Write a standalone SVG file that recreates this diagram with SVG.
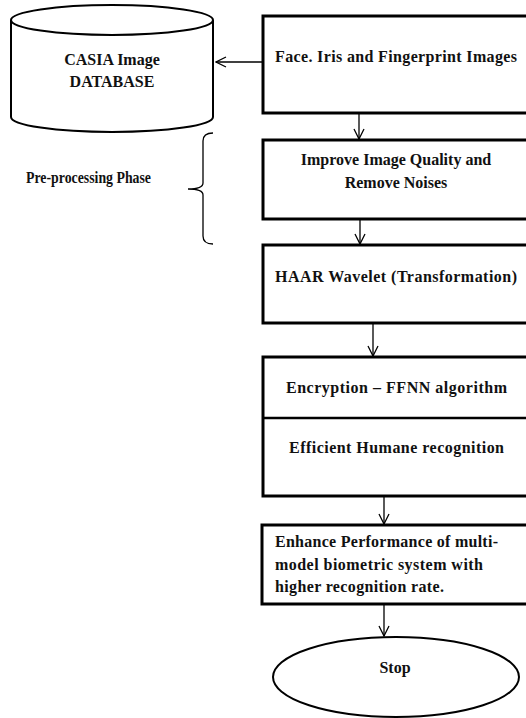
<svg xmlns="http://www.w3.org/2000/svg" width="526" height="718" viewBox="0 0 526 718">
<style>
.box{fill:#fff;stroke:#000;stroke-width:3}
.shape{fill:#fff;stroke:#000;stroke-width:2}
.t{font-family:"Liberation Serif","Times New Roman",serif;font-weight:bold;font-size:16px;fill:#111}
.c{text-anchor:middle}
.conn{fill:none;stroke:#000;stroke-width:1.3}
</style>
<defs>
<marker id="arr" viewBox="0 0 12 12" refX="11" refY="6" markerWidth="12" markerHeight="12" markerUnits="userSpaceOnUse" orient="auto">
<path d="M1,1 L11,6 L1,11" fill="none" stroke="#000" stroke-width="1.3"/>
</marker>
</defs>
<rect width="526" height="718" fill="#fff"/>
<g id="db">
<path class="shape" d="M11,20 L11,117 A101,15 0 0 0 213,117 L213,20"/>
<ellipse class="shape" cx="112" cy="20" rx="101" ry="15"/>
<text class="t c" x="112" y="65">CASIA Image</text>
<text class="t c" x="112" y="87">DATABASE</text>
</g>
<g id="brace">
<path class="conn" d="M213,133 Q203,133 203,141 L203,183 Q203,189 188,189 Q203,189 203,195 L203,236 Q203,244 213,244"/>
<text class="t" x="26" y="183" font-size="14" textLength="125" lengthAdjust="spacingAndGlyphs">Pre-processing Phase</text>
</g>
<g id="images">
<rect class="box" x="263" y="16" width="270" height="97"/>
<text class="t" x="275" y="62" textLength="242" lengthAdjust="spacing">Face. Iris and Fingerprint Images</text>
</g>
<g id="improve">
<rect class="box" x="263" y="140" width="270" height="79"/>
<text class="t c" x="396" y="165">Improve Image Quality and</text>
<text class="t c" x="396" y="188">Remove Noises</text>
</g>
<g id="haar">
<rect class="box" x="263" y="245" width="270" height="78"/>
<text class="t" x="275" y="282" textLength="242" lengthAdjust="spacing">HAAR Wavelet (Transformation)</text>
</g>
<g id="encrypt">
<rect class="box" x="263" y="357" width="270" height="139"/>
<line x1="263" y1="418" x2="533" y2="418" stroke="#000" stroke-width="2.5"/>
<text class="t" x="286" y="393" textLength="221" lengthAdjust="spacing">Encryption – FFNN algorithm</text>
<text class="t" x="289" y="453" textLength="215" lengthAdjust="spacing">Efficient Humane recognition</text>
</g>
<g id="enhance">
<rect class="box" x="262" y="525" width="270" height="79"/>
<text class="t" x="275" y="547" textLength="223" lengthAdjust="spacing">Enhance Performance of multi-</text>
<text class="t" x="275" y="570" textLength="208" lengthAdjust="spacing">model  biometric system with</text>
<text class="t" x="275" y="592" textLength="169" lengthAdjust="spacing">higher recognition rate.</text>
</g>
<g id="stop">
<ellipse class="shape" cx="396" cy="677" rx="123" ry="40"/>
<text class="t c" x="395" y="673">Stop</text>
</g>
<g id="connectors">
<line class="conn" x1="263" y1="62" x2="216" y2="62" marker-end="url(#arr)"/>
<line class="conn" x1="359" y1="113" x2="359" y2="139" marker-end="url(#arr)"/>
<line class="conn" x1="360" y1="219" x2="360" y2="244" marker-end="url(#arr)"/>
<line class="conn" x1="373" y1="323" x2="373" y2="356" marker-end="url(#arr)"/>
<line class="conn" x1="384" y1="496" x2="384" y2="524" marker-end="url(#arr)"/>
<line class="conn" x1="384" y1="604" x2="384" y2="636" marker-end="url(#arr)"/>
</g>
</svg>
